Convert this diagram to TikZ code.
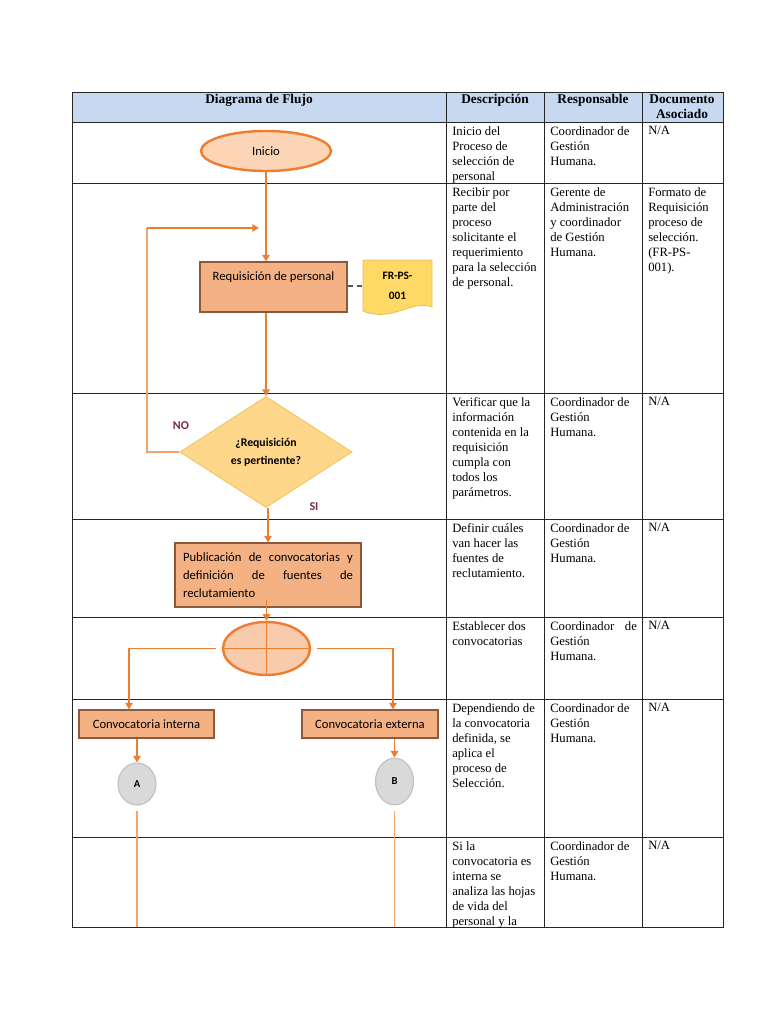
\documentclass[tikz,border=0pt]{standalone}
\usepackage{fontspec}
\setmainfont{Liberation Serif}
\newfontfamily\calibri{Carlito}
\usetikzlibrary{shapes.geometric,arrows.meta,calc}
\definecolor{orangeline}{HTML}{ED7D31}
\definecolor{loopline}{HTML}{F2A36B}
\definecolor{boxfill}{HTML}{F4B183}
\definecolor{boxborder}{HTML}{8B5A3C}
\definecolor{inifill}{HTML}{FBD5B5}
\definecolor{diafill}{HTML}{FFD78A}
\definecolor{diaborder}{HTML}{F7C56A}
\definecolor{docfill}{HTML}{FFD966}
\definecolor{docborder}{HTML}{E6C24A}
\definecolor{connfill}{HTML}{F8CBAD}
\definecolor{grayfill}{HTML}{D9D9D9}
\definecolor{grayborder}{HTML}{BFBFBF}
\definecolor{hdrfill}{HTML}{C6D9F1}
\definecolor{labelcol}{HTML}{7B2C3E}
\begin{document}
\begin{tikzpicture}[x=0.75pt,y=-0.75pt,
  grid/.style={draw=black!85,line width=0.7pt},
  hdr/.style={inner sep=0pt,align=center,font=\bfseries\fontsize{10}{11.25}\selectfont},
  cell/.style={anchor=north west,inner sep=0pt,align=left,font=\fontsize{9.5}{11.3}\selectfont},
  pbox/.style={draw=boxborder,fill=boxfill,line width=0.8pt,rectangle,inner sep=0pt,
    font=\calibri\fontsize{9.5}{13.5}\selectfont},
  arr/.style={draw=orangeline,line width=1.4pt,-{Triangle[width=5.5pt,length=5pt]}},
  oline/.style={draw=orangeline,line width=1.4pt},
  lline/.style={draw=loopline,line width=1.1pt},
  flabel/.style={text=labelcol,font=\calibri\bfseries\fontsize{9}{10}\selectfont,inner sep=0pt},
  refcircle/.style={ellipse,fill=grayfill,draw=grayborder,line width=0.8pt,inner sep=0pt,
    font=\calibri\bfseries\fontsize{8}{9}\selectfont}
]
\useasboundingbox (0,0) rectangle (768,1024);

% ---------------- table ----------------
\fill[hdrfill] (72,92) rectangle (723,122);
\draw[grid] (72,92) rectangle (723,927);
\foreach \y in {122,183,393,519,617,699,837} \draw[grid] (72,\y) -- (723,\y);
\foreach \x in {446,544,642} \draw[grid] (\x,92) -- (\x,927);

\node[hdr] (h1) at (259,100) {Diagrama de Flujo};
\node[hdr] (h2) at (495,100) {Descripción};
\node[hdr] (h3) at (593,100) {Responsable};
\node[hdr] (h4) at (682,107) {Documento\\Asociado};

% row 1
\node[cell] (d1) at (452,126) {Inicio del\\Proceso de\\selección de\\personal};
\node[cell] (r1) at (550,126) {Coordinador de\\Gestión\\Humana.};
\node[cell] (a1) at (648,126) {N/A};
% row 2
\node[cell] (d2) at (452,187) {Recibir por\\parte del\\proceso\\solicitante el\\requerimiento\\para la selección\\de personal.};
\node[cell] (r2) at (550,187) {Gerente de\\Administración\\y coordinador\\de Gestión\\Humana.};
\node[cell] (a2) at (648,187) {Formato de\\Requisición\\proceso de\\selección.\\(FR-PS-\\001).};
% row 3
\node[cell] (d3) at (452,397) {Verificar que la\\información\\contenida en la\\requisición\\cumpla con\\todos los\\parámetros.};
\node[cell] (r3) at (550,397) {Coordinador de\\Gestión\\Humana.};
\node[cell] (a3) at (648,397) {N/A};
% row 4
\node[cell] (d4) at (452,523) {Definir cuáles\\van hacer las\\fuentes de\\reclutamiento.};
\node[cell] (r4) at (550,523) {Coordinador de\\Gestión\\Humana.};
\node[cell] (a4) at (648,523) {N/A};
% row 5
\node[cell] (d5) at (452,621) {Establecer dos\\convocatorias};
\node[cell] (r5) at (550,621) {\makebox[65pt][l]{Coordinador\hfill de}\\Gestión\\Humana.};
\node[cell] (a5) at (648,621) {N/A};
% row 6
\node[cell] (d6) at (452,703) {Dependiendo de\\la convocatoria\\definida, se\\aplica el\\proceso de\\Selección.};
\node[cell] (r6) at (550,703) {Coordinador de\\Gestión\\Humana.};
\node[cell] (a6) at (648,703) {N/A};
% row 7
\node[cell] (d7) at (452,841) {Si la\\convocatoria es\\interna se\\analiza las hojas\\de vida del\\personal y la};
\node[cell] (r7) at (550,841) {Coordinador de\\Gestión\\Humana.};
\node[cell] (a7) at (648,841) {N/A};

% ---------------- flowchart ----------------
\node[ellipse,draw=orangeline,fill=inifill,line width=1.8pt,minimum width=97.5pt,minimum height=30pt,
  inner sep=0pt,font=\calibri\fontsize{9.5}{11}\selectfont] (inicio) at (266,151) {Inicio};

\node[pbox,minimum width=110.25pt,minimum height=37.5pt,text height=8pt,text depth=18.5pt,inner ysep=5.5pt] (req) at (273.5,287) {Requisición de personal};

% document shape
\path[draw=docborder,fill=docfill,line width=0.6pt] (363,260) -- (432,260) -- (432,307)
  .. controls (412,299) and (392,323) .. (363,311) -- cycle;
\node[inner sep=0pt,align=center,minimum width=51.75pt,minimum height=40pt,
  font=\calibri\bfseries\fontsize{8.5}{15}\selectfont] (doc) at (397.5,286) {FR-PS-\\001};
\draw[draw=black!65,line width=0.9pt,dash pattern=on 4pt off 3pt] (req.east |- doc.west) -- (doc.west);

\node[diamond,draw=diaborder,fill=diafill,line width=0.8pt,minimum width=129pt,minimum height=83.25pt,
  inner sep=0pt,align=center,font=\calibri\bfseries\fontsize{8.8}{13.5}\selectfont] (dia) at (266,452)
  {¿Requisición\\es pertinente?};
\node[flabel] (no) at (181,426) {NO};
\node[flabel] (si) at (314,507) {SI};

\node[pbox,minimum width=139.5pt,minimum height=48pt,inner xsep=6pt,text width=127.5pt,align=left] (pub) at (268,575)
  {\makebox[127.5pt][l]{Publicación\hfill de\hfill convocatorias\hfill y}\\\makebox[127.5pt][l]{definición\hfill de\hfill fuentes\hfill de}\\reclutamiento};

\node[ellipse,draw=orangeline,fill=connfill,line width=1.8pt,minimum width=65.25pt,minimum height=39.75pt,
  inner sep=0pt] (conn) at (266.5,648.5) {};
\draw[oline] (conn.north) -- (conn.south) (conn.west) -- (conn.east);

\node[pbox,minimum width=101.25pt,minimum height=21pt] (ci) at (146.5,724) {Convocatoria interna};
\node[pbox,minimum width=102pt,minimum height=21pt] (ce) at (370,724) {Convocatoria externa};

\node[refcircle,minimum width=28.5pt,minimum height=31.5pt] (A) at (137,784) {A};
\node[refcircle,minimum width=28.5pt,minimum height=35pt] (B) at (394.5,781.5) {B};

% connectors
\draw[arr] (inicio.south) -- (inicio.south |- req.north);
\draw[arr] (inicio.south |- req.south) -- (dia.north);
\coordinate (loopcorner) at (147,228);
\coordinate (loopin) at (259,228);
\draw[lline] (dia.west) -| (loopcorner);
\draw[lline,draw=orangeline,-{Triangle[width=5.5pt,length=5pt]}] (loopcorner) -- (loopin);
\draw[arr] ([xshift=1.5pt]dia.south) -- ([xshift=1.5pt]dia.south |- pub.north);
\draw[arr] ([yshift=6pt]pub.south -| conn.north) -- (conn.north);
\draw[arr,shorten <=4pt] (conn.west) -| ([xshift=-13.1pt]ci.north);
\draw[arr,shorten <=4pt] (conn.east) -| ([xshift=17.25pt]ce.north);
\draw[arr] (ci.south -| A.north) -- (A.north);
\draw[arr] (ce.south -| B.north) -- (B.north);
\coordinate (Aend) at (137,927);
\coordinate (Bend) at (394.5,927);
\draw[lline,shorten <=4pt] (A.south) -- (Aend);
\draw[lline,shorten <=4pt] (B.south) -- (Bend);
\end{tikzpicture}
\end{document}
